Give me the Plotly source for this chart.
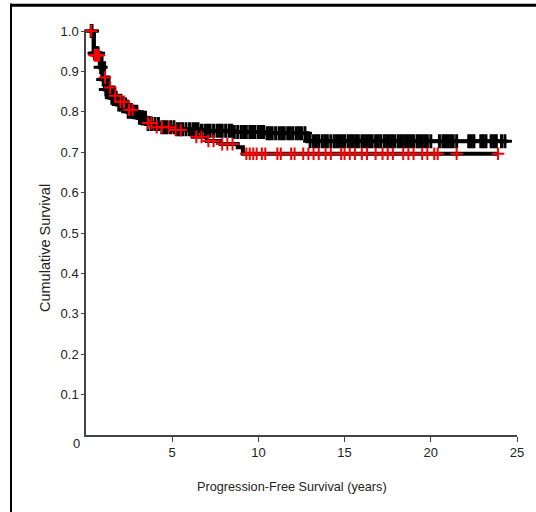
import numpy as np
import plotly.graph_objects as go

# ---- Data ----
# Group A (black) Kaplan-Meier step points
a_times = [0.0, 0.2, 0.45, 0.8, 0.95, 1.1, 1.4, 1.8, 2.4, 3.0, 3.5, 4.3, 5.3, 6.6, 8.5, 10.5, 12.85, 24.4]
a_surv = [1.0, 1.0, 0.945, 0.91, 0.88, 0.855, 0.835, 0.818, 0.80, 0.785, 0.77, 0.762, 0.757, 0.753, 0.75, 0.747, 0.727, 0.727]
a_censor = [0.3, 0.35, 0.5, 0.55, 0.6, 0.7, 0.85, 1.0, 1.15, 1.25, 1.35, 1.5, 1.6, 1.75, 1.9,
            2.0, 2.1, 2.2, 2.3, 2.45, 2.6, 2.7, 2.8, 2.95, 3.1, 3.2, 3.3, 3.45, 3.6, 3.8,
            4.0, 4.2, 4.4, 4.55, 4.7, 4.9, 5.1, 5.3, 5.45, 5.6, 5.8, 6.0, 6.2, 6.35, 6.5,
            6.7, 6.9, 7.05, 7.2, 7.4, 7.6, 7.75, 7.9, 8.1, 8.3, 8.45, 8.6, 8.8, 9.0, 9.15,
            9.3, 9.5, 9.65, 9.8, 10.0, 10.15, 10.3, 10.5, 10.65, 10.8, 11.0, 11.2, 11.35,
            11.5, 11.7, 11.85, 12.0, 12.2, 12.35, 12.5, 12.7, 13.0, 13.2, 13.35, 13.5,
            13.7, 13.85, 14.0, 14.2, 14.4, 14.55, 14.7, 14.85, 15.0, 15.2, 15.35, 15.5,
            15.65, 15.8, 16.0, 16.15, 16.3, 16.45, 16.6, 16.8, 16.95, 17.1, 17.3, 17.45,
            17.6, 17.75, 17.9, 18.1, 18.25, 18.4, 18.55, 18.7, 18.85, 19.0, 19.2, 19.35,
            19.5, 19.65, 19.8, 20.0, 20.5, 20.7, 20.85, 21.0, 21.15, 21.3, 21.5, 22.2,
            22.35, 22.5, 22.9, 23.05, 23.2, 23.5, 23.65, 23.8, 24.1, 24.3]

# Group B (red) Kaplan-Meier step points
b_times = [0.0, 0.2, 0.45, 0.9, 1.05, 1.3, 1.6, 2.0, 2.4, 2.9, 3.4, 4.0, 5.0, 6.2, 7.0, 7.8, 8.8, 9.1, 23.9]
b_surv = [1.0, 1.0, 0.94, 0.92, 0.885, 0.86, 0.84, 0.825, 0.805, 0.79, 0.772, 0.762, 0.755, 0.738, 0.728, 0.72, 0.712, 0.696, 0.696]
b_censor = [0.3, 0.5, 0.55, 0.6, 0.65, 0.7, 0.75, 1.1, 1.4, 1.7, 2.0, 2.2, 2.5, 2.7, 3.6, 3.8,
            4.1, 4.4, 4.8, 5.2, 5.5, 6.4, 6.7, 7.1, 7.4, 7.9, 8.2, 8.5, 9.3, 9.5, 9.7,
            9.9, 10.2, 10.4, 11.1, 11.3, 11.9, 12.1, 12.6, 12.9, 13.2, 13.5, 13.9, 14.2,
            14.8, 15.0, 15.3, 15.6, 16.0, 16.3, 16.8, 17.2, 17.5, 17.8, 18.4, 18.7, 19.0,
            19.5, 19.8, 20.2, 20.4, 21.5, 23.9]

x_ticks = [5, 10, 15, 20, 25]
y_ticks = [0.1, 0.2, 0.3, 0.4, 0.5, 0.6, 0.7, 0.8, 0.9, 1.0]
y_ticktext = ["0.1", "0.2", "0.3", "0.4", "0.5", "0.6", "0.7", "0.8", "0.9", "1.0"]
x_title = "Progression-Free Survival (years)"
y_title = "Cumulative Survival"


def step_value(times, surv, t):
    idx = np.searchsorted(np.array(times), np.array(t), side="right") - 1
    return np.array(surv)[np.clip(idx, 0, len(surv) - 1)]


fig = go.Figure()

# Group A line + censor marks
fig.add_trace(go.Scatter(x=a_times[1:], y=a_surv[1:], mode="lines", line_shape="hv",
                         line=dict(color="black", width=4), cliponaxis=False,
                         showlegend=False, hoverinfo="skip"))
fig.add_trace(go.Scatter(x=a_censor, y=step_value(a_times, a_surv, a_censor), mode="markers",
                         marker=dict(symbol="cross-thin", size=10,
                                     line=dict(color="black", width=3)),
                         cliponaxis=False, showlegend=False))

# Group B line + censor marks
fig.add_trace(go.Scatter(x=b_times[1:], y=b_surv[1:], mode="lines", line_shape="hv",
                         line=dict(color="black", width=4), cliponaxis=False,
                         showlegend=False, hoverinfo="skip"))
fig.add_trace(go.Scatter(x=b_censor, y=step_value(b_times, b_surv, b_censor), mode="markers",
                         marker=dict(symbol="cross-thin", size=9,
                                     line=dict(color="#ff0000", width=2)),
                         cliponaxis=False, showlegend=False))

font_family = "Liberation Sans, Arial, sans-serif"

fig.update_layout(
    width=536, height=512,
    margin=dict(l=86, r=19, t=31, b=77),
    paper_bgcolor="white", plot_bgcolor="white",
    font=dict(family=font_family, size=12, color="#222"),
    xaxis=dict(range=[0, 25], tickvals=x_ticks, ticks="outside", ticklen=5, tickwidth=1,
               tickcolor="#444", showline=True, linecolor="#444", linewidth=1.5,
               showgrid=False, zeroline=False, tickfont=dict(size=13)),
    yaxis=dict(range=[0, 1.0], tickvals=y_ticks, ticktext=y_ticktext, ticks="outside",
               ticklen=3, tickwidth=1, tickcolor="#444", showline=True, linecolor="#444",
               linewidth=1.5, showgrid=False, zeroline=False, tickfont=dict(size=13)),
    shapes=[
        dict(type="line", xref="paper", yref="paper", x0=-0.174, x1=1.05, y0=1.064, y1=1.064,
             line=dict(color="black", width=3)),
        dict(type="line", xref="paper", yref="paper", x0=-0.174, x1=-0.174, y0=1.068, y1=-0.2,
             line=dict(color="black", width=2)),
    ],
    annotations=[
        dict(text="0", x=0, y=0, xref="x", yref="paper", showarrow=False, xshift=-10,
             yshift=-18, font=dict(size=13, color="#222")),
        dict(text=x_title, x=(292 - 86) / 431, y=(435 - 487) / 404, xref="paper", yref="paper",
             showarrow=False, xanchor="center", yanchor="middle",
             font=dict(size=12.7, color="#222")),
        dict(text=y_title, x=(45 - 86) / 431, y=(435 - 248) / 404, xref="paper", yref="paper",
             showarrow=False, xanchor="center", yanchor="middle", textangle=-90,
             font=dict(size=14.5, color="#222")),
    ],
)

fig.write_html("out.html")
